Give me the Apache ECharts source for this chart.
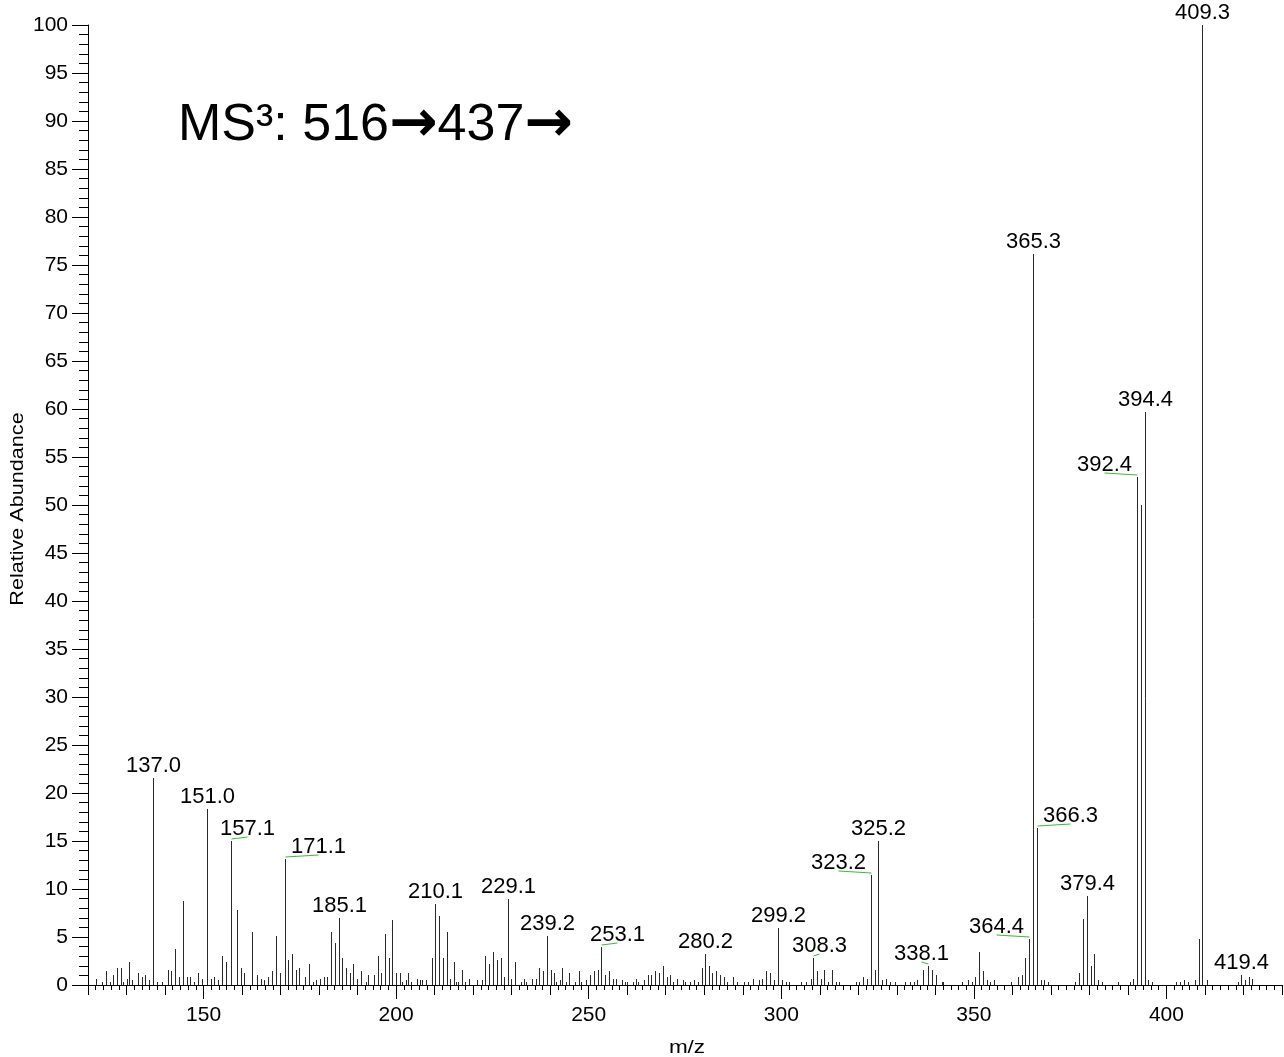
<!DOCTYPE html>
<html>
<head>
<meta charset="utf-8">
<script src="https://cdn.jsdelivr.net/npm/echarts@6/dist/echarts.min.js"></script>
<style>
html,body{margin:0;padding:0;background:#fff;}
#chart{width:1284px;height:1057px;}
</style>
</head>
<body>
<div id="chart"></div>
<script>
// ---- data ----
const mz = [
122.2,123.7,124.7,125.6,126.6,127.6,128.6,129.2,130.1,130.6,131.5,132.9,133.9,134.9,135.8,137.0,137.9,139.1,
140.7,141.6,142.6,143.6,144.6,145.6,146.5,147.5,148.5,149.5,151.0,151.9,152.8,153.8,154.7,155.7,157.1,158.6,
159.6,160.5,162.5,163.8,164.8,165.7,166.8,167.8,168.7,169.8,171.1,172.0,173.0,174.0,174.9,176.3,177.3,178.3,
179.3,180.2,181.2,182.1,183.1,184.0,185.1,186.0,187.0,187.9,188.9,189.8,190.8,192.2,192.8,194.3,195.2,196.2,
197.1,198.1,199.0,200.0,201.0,201.5,202.5,203.0,203.9,205.3,206.3,206.8,207.7,209.2,210.1,211.1,212.2,213.1,
214.1,215.0,215.5,216.0,217.0,218.0,219.0,221.0,222.3,223.2,224.2,225.2,226.1,227.1,228.0,229.1,229.9,230.9,
232.3,233.3,233.8,235.2,236.2,237.2,238.1,239.2,240.1,241.1,241.6,242.6,243.1,244.0,245.0,246.4,247.4,247.9,
249.4,250.4,251.3,252.3,253.1,254.2,255.2,256.2,257.2,258.6,259.5,260.0,261.4,262.4,262.9,264.4,265.3,266.2,
267.2,268.2,269.2,270.2,271.1,272.0,273.0,274.4,274.9,276.4,277.3,278.3,279.3,280.2,281.2,282.1,283.1,284.0,
285.0,286.0,287.4,288.4,290.4,291.3,292.7,294.1,295.1,296.1,297.0,298.1,299.2,300.1,301.1,302.1,305.0,306.4,
307.8,308.3,309.3,310.2,311.2,312.1,313.1,314.1,315.0,319.4,320.3,321.3,322.3,323.2,324.3,325.2,326.2,327.1,
328.1,329.5,332.0,333.4,334.4,335.3,336.8,338.1,339.1,340.2,341.7,342.1,347.0,348.4,349.4,350.3,351.3,352.3,
353.3,354.2,355.2,359.6,361.5,362.4,363.4,364.4,365.3,366.3,367.3,368.2,369.3,376.3,377.4,378.3,379.4,380.4,
381.3,382.3,383.2,387.5,390.5,391.4,392.4,393.3,394.4,395.3,396.3,402.6,403.5,404.5,405.5,407.4,408.4,409.3,
410.4,418.6,419.4,420.4,421.4,422.3
];
const abundance = [
0.6,0.3,1.5,0.3,1.0,1.8,1.8,0.3,0.6,2.4,0.5,1.2,0.8,1.0,0.5,21.6,0.3,0.3,
1.6,1.5,3.8,0.8,8.8,0.8,0.8,0.3,1.2,0.6,18.3,0.6,0.8,0.5,3.0,2.4,15.0,7.8,
1.8,1.2,5.5,1.0,0.6,0.5,0.8,1.5,5.1,1.2,13.1,2.6,3.2,1.6,1.8,0.8,2.2,0.3,
0.5,0.6,0.8,0.8,5.5,4.4,7.0,2.8,1.8,1.2,2.2,0.6,1.5,0.3,1.0,1.0,3.0,1.2,
5.3,2.8,6.8,1.2,1.2,0.3,0.5,1.2,0.3,0.6,0.5,0.5,0.5,2.8,8.4,7.2,2.8,5.5,
0.6,2.4,0.3,0.3,1.6,0.3,0.6,0.5,0.5,3.0,2.2,3.4,2.6,2.8,0.8,9.0,0.6,2.4,
0.3,0.6,0.3,0.6,0.6,1.8,1.5,5.1,1.6,1.2,0.3,0.5,1.8,0.3,1.2,0.3,1.5,0.3,
0.5,1.0,1.5,1.6,4.0,1.0,1.5,0.6,0.6,0.5,0.3,0.3,0.3,0.6,0.3,0.5,1.0,1.0,
1.5,1.2,2.0,0.8,1.0,0.3,0.6,0.5,0.3,0.3,0.5,0.3,1.8,3.2,2.0,1.2,1.5,1.0,
0.8,0.3,0.8,0.3,0.3,0.3,0.6,0.5,0.6,1.5,1.2,0.5,5.9,0.5,0.3,0.3,0.3,0.3,
0.6,2.8,1.5,0.6,1.6,0.3,1.6,0.3,0.3,0.3,0.3,0.8,0.6,11.5,1.6,15.0,0.5,0.6,
0.3,0.3,0.3,0.3,0.3,0.5,1.6,2.0,1.6,1.0,0.3,0.3,0.3,0.5,0.3,0.8,3.4,1.5,
0.5,0.3,0.5,0.3,0.8,1.0,2.8,4.8,76.1,16.4,0.5,0.5,0.3,0.3,1.25,6.9,9.3,2.0,
3.2,0.5,0.3,0.3,0.3,0.6,52.9,50.0,59.7,0.5,0.3,0.3,0.3,0.5,0.3,0.5,4.75,100,
0.5,0.3,1.0,0.5,0.8,0.6
];
const labeledMz = [137.0,151.0,157.1,171.1,185.1,210.1,229.1,239.2,253.1,280.2,299.2,308.3,
  323.2,325.2,338.1,364.4,365.3,366.3,379.4,392.4,394.4,409.3,419.4];
const xTickLabels = [150,200,250,300,350,400];
const yTickLabels = [0,5,10,15,20,25,30,35,40,45,50,55,60,65,70,75,80,85,90,95,100];
const titleText = 'MS³: 516→437→';
const xName = 'm/z';
const yName = 'Relative Abundance';

// ---- presentation ----
// horizontal label shift (px) for labels that the instrument software moved aside
const labelNudge = {'157.1':16,'171.1':33,'253.1':16,'308.3':6,'323.2':-33,'338.1':-7,'364.4':-33,'366.3':33,'392.4':-33};
const FONT = '"Liberation Sans", Arial, Helvetica, sans-serif';

const peakData = mz.map((m, i) => [m, abundance[i]]);
const labelData = labeledMz.map(m => {
  let best = 0, bd = 1e9;
  mz.forEach((v, i) => { const d = Math.abs(v - m); if (d < bd) { bd = d; best = i; } });
  return [m, abundance[best]];
});

// title as rich text: plain parts in sans, arrows heavier
const titleRich = titleText.split('→').map((s, i, arr) =>
  (s ? '{t|' + s + '}' : '') + (i < arr.length - 1 ? '{a|→}' : '')).join('');

const chart = echarts.init(document.getElementById('chart'), null, {renderer: 'canvas'});
const xMin = 120, xMax = 430;
const baseX = {min: xMin, max: xMax, type: 'value', position: 'bottom', gridIndex: 0,
  splitLine: {show: false}, axisLine: {show: false}, axisLabel: {show: false}};

chart.setOption({
  animation: false,
  backgroundColor: '#fff',
  grid: {left: 88, right: 2, top: 25, bottom: 72, containLabel: false},
  xAxis: [
    Object.assign({}, baseX, {
      axisLine: {show: true, onZero: false, lineStyle: {color: '#000', width: 1}},
      axisTick: {show: true, length: 14, customValues: xTickLabels, lineStyle: {color: '#000'}},
      axisLabel: {show: true, customValues: xTickLabels, margin: 20, color: '#000', fontSize: 21, fontFamily: FONT}
    }),
    Object.assign({}, baseX, {interval: 10, axisTick: {show: true, length: 10, lineStyle: {color: '#000'}}}),
    Object.assign({}, baseX, {interval: 2, axisTick: {show: true, length: 5, lineStyle: {color: '#000'}}})
  ],
  yAxis: {
    type: 'value', min: 0, max: 100, interval: 5,
    axisLine: {show: true, lineStyle: {color: '#000', width: 1}},
    axisTick: {show: true, length: 16, lineStyle: {color: '#000'}},
    minorTick: {show: true, splitNumber: 5, length: 9, lineStyle: {color: '#000'}},
    splitLine: {show: false},
    axisLabel: {color: '#000', fontSize: 21, fontFamily: FONT, margin: 20,
      formatter: v => (yTickLabels.indexOf(v) >= 0 ? String(v) : '')}
  },
  series: [
    {
      type: 'custom', xAxisIndex: 0, yAxisIndex: 0, data: peakData, encode: {x: 0, y: 1},
      renderItem: (params, api) => {
        const p0 = api.coord([api.value(0), 0]);
        const p1 = api.coord([api.value(0), api.value(1)]);
        const px = Math.round(p0[0]) + 0.5;
        return {type: 'line', shape: {x1: px, y1: Math.round(p0[1]), x2: px, y2: Math.round(p1[1])},
          style: {stroke: '#2a2a2a', lineWidth: 1}};
      }
    },
    {
      type: 'custom', xAxisIndex: 0, yAxisIndex: 0, data: labelData, encode: {x: 0, y: 1}, z: 5,
      renderItem: (params, api) => {
        const m = api.value(0);
        const p = api.coord([m, api.value(1)]);
        const px = Math.round(p[0]) + 0.5, py = Math.round(p[1]);
        const key = m.toFixed(1);
        const dx = labelNudge[key] || 0;
        const children = [{
          type: 'text', x: px + dx, y: py - 1,
          style: {text: key, fontSize: 22, fontFamily: FONT, fill: '#000', align: 'center', verticalAlign: 'bottom'}
        }];
        if (dx) {
          children.push({type: 'line', shape: {x1: px, y1: py - 2, x2: px + dx, y2: py - 4},
            style: {stroke: '#3cba3c', lineWidth: 1}});
        }
        return {type: 'group', children};
      }
    }
  ],
  graphic: [
    {type: 'text', x: 178, y: 126,
      style: {text: titleRich, verticalAlign: 'middle', align: 'left',
        rich: {
          t: {fontSize: 52, fontFamily: FONT, fill: '#000', lineHeight: 60},
          a: {fontSize: 58, fontFamily: '"DejaVu Sans", sans-serif', fontWeight: 'bold', fill: '#000', lineHeight: 60}
        }}},
    {type: 'text', x: 18, y: 509, rotation: Math.PI / 2, scaleX: 1.2,
      style: {text: yName, fontSize: 18, fontFamily: FONT, fill: '#000', align: 'center', verticalAlign: 'middle'}},
    {type: 'text', x: 687, y: 1048, scaleX: 1.25,
      style: {text: xName, fontSize: 18, fontFamily: FONT, fill: '#000', align: 'center', verticalAlign: 'middle'}}
  ]
});
</script>
</body>
</html>
